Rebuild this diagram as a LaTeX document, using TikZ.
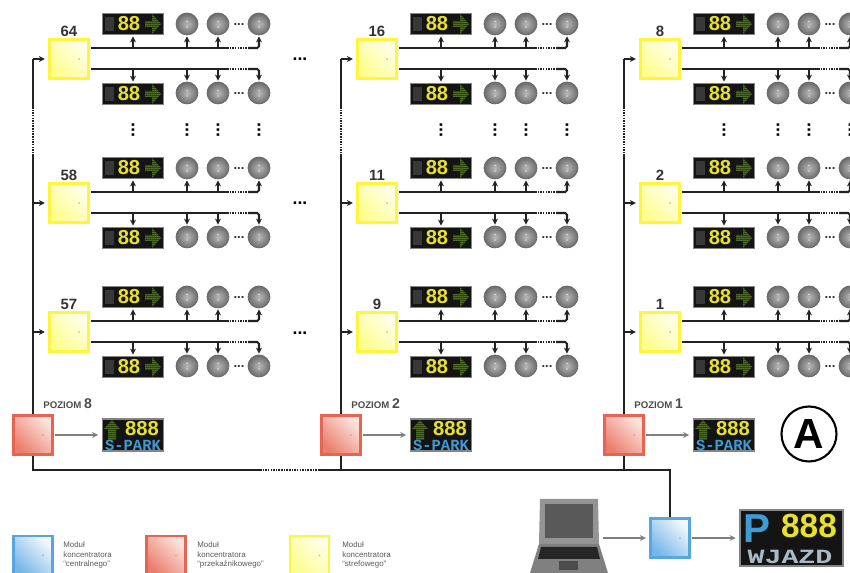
\documentclass[tikz,border=0pt]{standalone}
\usepackage{fontspec}
\setmainfont{Liberation Sans}
\setmonofont{Liberation Mono}
\usetikzlibrary{arrows.meta,positioning,patterns}

\definecolor{segyellow}{HTML}{E8E02A}
\definecolor{seggreen}{HTML}{8FD040}
\definecolor{segblue}{HTML}{3E9BD6}
\definecolor{seggray}{HTML}{A9BAC4}
\definecolor{linedark}{HTML}{222222}

\pgfdeclarepatternformonly{ledgrid}{\pgfqpoint{0pt}{0pt}}{\pgfqpoint{1.3pt}{1.3pt}}{\pgfqpoint{1.3pt}{1.3pt}}{
    \pgfpathcircle{\pgfqpoint{0.65pt}{0.65pt}}{0.55pt}\pgfusepath{fill}}

\tikzset{
    >={Stealth[length=3.4pt,width=3.4pt]},
    modbase/.style={rectangle, inner sep=0pt, minimum size=0.78cm, line width=1.3pt,
        path picture={\fill[black!35,opacity=0.6] (path picture bounding box.center) ++(0.2cm,0cm) circle (0.6pt);}},
    modzone/.style={modbase, draw=yellow!75, bottom color=yellow!45, top color=yellow!8, shading angle=-45},
    modrelay/.style={modbase, draw={rgb,255:red,232;green,100;blue,82}, bottom color={rgb,255:red,234;green,125;blue,108}, top color={rgb,255:red,251;green,228;blue,222}, shading angle=-45},
    modcentral/.style={modbase, draw={rgb,255:red,88;green,166;blue,224}, bottom color={rgb,255:red,118;green,182;blue,232}, top color={rgb,255:red,242;green,248;blue,252}, shading angle=-45},
    busline/.style={linedark, line width=1.15pt},
    busdots/.style={linedark, line width=1.15pt, dash pattern=on 0.9pt off 0.6pt},
    graylink/.style={black!50, line width=1pt, shorten <=1pt, shorten >=2pt},
    sensor/.style={circle, inner sep=0pt, minimum size=0.44cm, draw=black!60, line width=0.4pt,
        inner color=black!28, outer color=black!58,
        path picture={\fill[white!85!black] (path picture bounding box.center) ++(0cm,0.05cm) circle (0.5pt);
                      \fill[white!85!black] (path picture bounding box.center) ++(0cm,-0.06cm) circle (0.5pt);}},
    signbox/.style={rectangle, inner sep=0pt, fill=black!92, draw=black!48, line width=1pt},
    greendots/.style={pattern=ledgrid, pattern color=seggreen},
    numlabel/.style={font=\bfseries\fontsize{8.5}{9}\selectfont, text=black!80, inner sep=0pt},
    levellabel/.style={font=\bfseries\fontsize{5.5}{6}\selectfont, text=black!70, inner sep=0pt, anchor=base west},
    legendtext/.style={font=\fontsize{4.5}{5.67}\selectfont, text=black!65, inner sep=0pt, anchor=west, align=left},
    dotsrow/.style={font=\bfseries\fontsize{10}{10}\selectfont, inner sep=0pt},
    dotsmall/.style={font=\bfseries\fontsize{7.5}{7.5}\selectfont, inner sep=0pt, text=black!80},
}

% Small sign with two digits and an arrow
\newcommand{\signsmall}[3]{
    \node[signbox, minimum width=1.22cm, minimum height=0.42cm] (#1) at (#2,#3) {};
    \begin{scope}[shift={(#2,#3)}]
        \fill[black!78] (-28,-7) rectangle (-19,7);
        \node[inner sep=0pt, text=segyellow, font=\bfseries\fontsize{11.5}{12}\selectfont] (#1t) at (-4,0) {88};
        \fill[greendots] (12,-3) -- (19,-3) -- (19,-10) -- (28,0) -- (19,10) -- (19,3) -- (12,3) -- cycle;
    \end{scope}
}

% Sign of a level, with an up arrow
\newcommand{\signlevel}[3]{
    \node[signbox, minimum width=1.22cm, minimum height=0.64cm] (#1) at (#2,#3) {};
    \begin{scope}[shift={(#2,#3)}]
        \fill[greendots] (-13,-6) -- (-21,-15) -- (-29,-6) -- (-25,-6) -- (-25,5) -- (-17,5) -- (-17,-6) -- cycle;
        \node[inner sep=0pt, text=segyellow, font=\bfseries\fontsize{11.5}{12}\selectfont] (#1t) at (9,-6) {888};
        \node[inner sep=0pt, text=segblue, font=\ttfamily\bfseries\fontsize{8.8}{9}\selectfont] (#1p) at (0,10) {S-PARK};
    \end{scope}
}

\begin{document}
\begin{tikzpicture}[x=0.02cm,y=-0.02cm]

    \clip (0,0) rectangle (850,573);

    % Three columns of zone modules
    \foreach \dx/\na/\nb/\nc/\lev in {0/64/58/57/8,308/16/11/9/2,591/8/2/1/1} {

        % Level module with its sign
        \node[modrelay] (r\lev) at ({33+\dx},435) {};
        \signlevel{q\lev}{133+\dx}{435}
        \node[levellabel] (t\lev) at ({10+\dx+33},409) {POZIOM {\fontsize{8}{8}\selectfont\lev}};
        \draw[graylink,->] (r\lev) -- (q\lev);

        \foreach \y/\n in {24/\na,168/\nb,297/\nc} {

            \node[modzone] (m\n) at ({69+\dx},{\y+35}) {};
            \node[numlabel,above=1pt of m\n] (l\n) {\n};

            % Signs above and below the module lines
            \signsmall{ua\n}{133+\dx}{\y}
            \signsmall{da\n}{133+\dx}{\y+70}

            % Lines out of the module
            \coordinate (ba\n) at ({91+\dx},{\y+24});
            \coordinate (bb\n) at ({91+\dx},{\y+45});
            \coordinate (ca\n) at ({227+\dx},{\y+24});
            \coordinate (cb\n) at ({227+\dx},{\y+45});
            \coordinate (ea\n) at ({248+\dx},{\y+24});
            \coordinate (eb\n) at ({248+\dx},{\y+45});
            \draw[busline] (ba\n) -- (ca\n);
            \draw[busline] (bb\n) -- (cb\n);
            \draw[busdots] (ca\n) -- (ea\n);
            \draw[busdots] (cb\n) -- (eb\n);

            % Sensors
            \foreach \sx/\k in {187/1,218/2,259/3} {
                \node[sensor] (pa\n\k) at ({\sx+\dx},\y) {};
                \node[sensor] (pb\n\k) at ({\sx+\dx},{\y+69}) {};
            }
            \node[dotsmall] (ga\n) at ({239+\dx},{\y+0.5}) {...};
            \node[dotsmall] (gb\n) at ({239+\dx},{\y+69.5}) {...};

            % Arrows off the lines
            \draw[busline,->,shorten >=0.6pt] (ua\n |- ba\n) -- (ua\n.south);
            \draw[busline,->,shorten >=0.6pt] (da\n |- bb\n) -- (da\n.north);
            \foreach \k in {1,2} {
                \draw[busline,->,shorten >=0.6pt] (pa\n\k |- ba\n) -- (pa\n\k.south);
                \draw[busline,->,shorten >=0.6pt] (pb\n\k |- bb\n) -- (pb\n\k.north);
            }
            \draw[busline,->,rounded corners=1pt,shorten >=0.6pt] (ea\n) -| (pa\n3.south);
            \draw[busline,->,rounded corners=1pt,shorten >=0.6pt] (eb\n) -| (pb\n3.north);

            % Feed from the trunk
            \draw[busline,->,shorten >=2pt] (r\lev |- m\n) -- (m\n.west);
        }

        % Trunk of the column
        \coordinate (tu\lev) at ({33+\dx},107);
        \coordinate (tv\lev) at ({33+\dx},155);
        \draw[busline] (tu\lev) -- (r\lev |- m\na);
        \draw[busdots] (tu\lev) -- (tv\lev);
        \draw[busline] (tv\lev) -- (r\lev.north);

        % Dots between the rows
        \foreach \vx/\k in {133/1,187/2,218/3,259/4} {
            \node[dotsrow,rotate=90] (v\lev\k) at ({\vx+\dx},130) {...};
        }
    }

    % Dots between the first two columns
    \foreach \y/\k in {59/1,203/2,333/3} {
        \node[dotsrow] (h\k) at (300,\y) {...};
    }

    % Main line along the bottom
    \node[modcentral] (central) at (670,538) {};
    \coordinate (hu) at (260,470);
    \coordinate (hv) at (318,470);
    \draw[busline] (r8.south) |- (hu);
    \draw[busdots] (hu) -- (hv);
    \draw[busline] (hv) -| (central.north);
    \draw[busline] (r2.south) -- (r2.south |- hu);
    \draw[busline] (r1.south) -- (r1.south |- hu);

    % Laptop
    \node[minimum width=1.56cm, minimum height=1.54cm, inner sep=0pt] (laptop) at (569,538) {};
    \fill[black!42] (540,499) -- (598,499) -- (599,544) -- (539,544) -- cycle;
    \fill[black!65] (545,504) rectangle (593,538);
    \fill[black!50] (539,544) -- (599,544) -- (608,573) -- (530,573) -- cycle;
    \fill[black!85] (541,547) -- (597,547) -- (600,559) -- (538,559) -- cycle;
    \fill[black!70] (559,561) rectangle (578,570);

    % Big sign
    \node[signbox, minimum width=2.06cm, minimum height=1.12cm] (entry) at (791.5,538) {};
    \node[inner sep=0pt, text=segblue, font=\bfseries\fontsize{23}{23}\selectfont] (entryp) at (757,529) {P};
    \node[inner sep=0pt, text=segyellow, font=\bfseries\fontsize{19}{19}\selectfont] (entryt) at (809,526) {888};
    \node[inner sep=0pt, text=seggray, font=\ttfamily\bfseries\fontsize{11.5}{12}\selectfont, xscale=1.4] (entryw) at (790,557) {WJAZD};

    \draw[graylink,->,shorten <=-1mm] (laptop.east) -- (central.west);
    \draw[graylink,->] (central.east) -- (entry.west);

    % Circled letter
    \node[circle, draw=black, line width=1.2pt, inner sep=0pt, minimum size=1.1cm,
          font=\bfseries\fontsize{24}{24}\selectfont] (letter) at (809,434) {A};

    % Legend
    \node[modcentral] (legb) at (33,555.5) {};
    \node[modrelay] (legr) at (166,555.5) {};
    \node[modzone] (legy) at (309.5,555.5) {};
    \node[legendtext] (legbt) at (63,555) {Moduł\\koncentratora\\“centralnego”};
    \node[legendtext] (legrt) at (197,555) {Moduł\\koncentratora\\“przekaźnikowego”};
    \node[legendtext] (legyt) at (342,555) {Moduł\\koncentratora\\“strefowego”};

\end{tikzpicture}
\end{document}
